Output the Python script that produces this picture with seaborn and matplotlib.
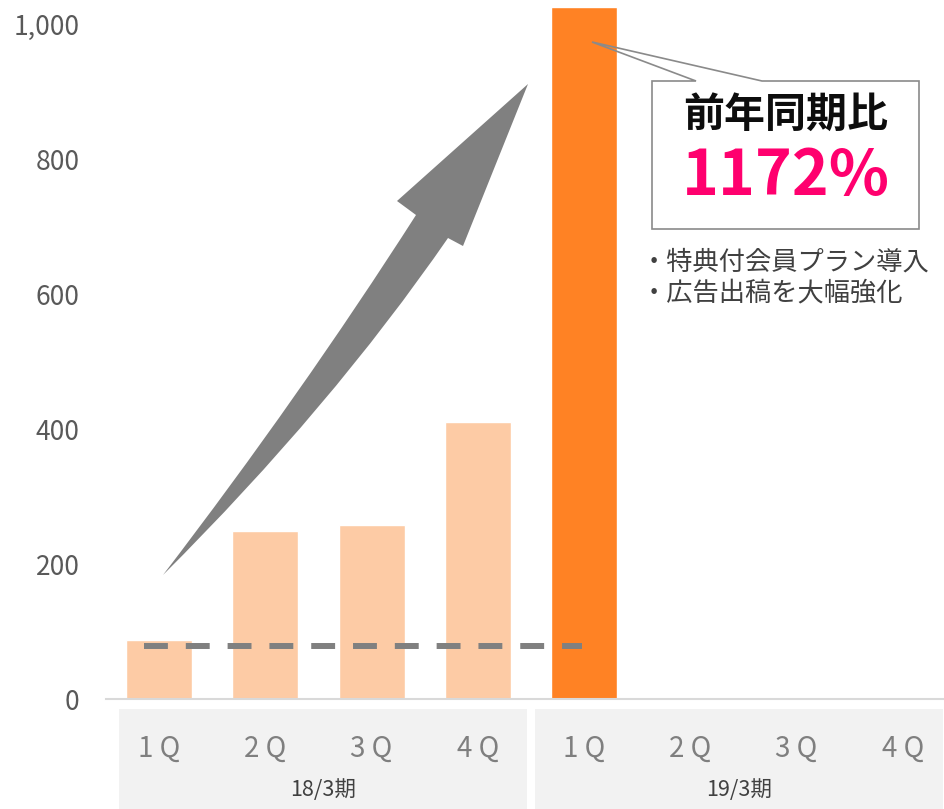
import numpy as np
import pandas as pd
import seaborn as sns
import matplotlib.pyplot as plt
from matplotlib.patches import Polygon, PathPatch, Rectangle
from matplotlib.path import Path
from matplotlib.ticker import FuncFormatter
from matplotlib.transforms import blended_transform_factory

# ---- data ---------------------------------------------------------------
quarters = ["1Q", "2Q", "3Q", "4Q"]
quarter_labels = ["1 Q", "2 Q", "3 Q", "4 Q"]
periods = ["18/3期", "19/3期"]
values_18 = [87, 249, 258, 410]
values_19 = [1025, np.nan, np.nan, np.nan]
prior_level = 78
yoy_label = "1172%"
headline = "前年同期比"
notes = ["・特典付会員プラン導入", "・広告出稿を大幅強化"]
y_ticks = [0, 200, 400, 600, 800, 1000]

# ---- styling ------------------------------------------------------------
sns.set_style("white")
plt.rcParams["font.family"] = ["Noto Sans CJK JP", "DejaVu Sans"]

W, H = 945, 809
fig = plt.figure(figsize=(W / 100, H / 100), dpi=100)
ax = fig.add_axes([106 / W, 110 / H, 850 / W, 691 / H])

slots = [f"{p} {q}" for p in periods for q in quarters]
rows = []
for p, vals, kind in [(periods[0], values_18, "past"), (periods[1], values_19, "current")]:
    for q, v in zip(quarters, vals):
        if not np.isnan(v):
            rows.append({"slot": f"{p} {q}", "value": v, "kind": kind})
df = pd.DataFrame(rows)

sns.barplot(data=df, x="slot", y="value", hue="kind", order=slots,
            palette={"past": "#FDCBA5", "current": "#FF8224"},
            width=0.62, dodge=False, saturation=1, legend=False, ax=ax)

ax.set_xlim(-0.5, len(slots) - 0.5)
ax.set_ylim(0, 1024)

# dashed reference level across the prior-year quarters
ax.hlines(prior_level, -0.14, 3.98, colors="#808080", linewidth=4.3,
          linestyles=(0, (4, 3)), capstyle="butt", zorder=5)

# axes & ticks
for s in ["top", "left", "right"]:
    ax.spines[s].set_visible(False)
ax.spines["bottom"].set_color("#d9d9d9")
ax.spines["bottom"].set_linewidth(1.5)
ax.set_xlabel("")
ax.set_ylabel("")
ax.set_xticks(range(len(slots)))
ax.set_xticklabels([])
ax.set_xticks(np.arange(-0.5, len(slots), 1.0), minor=True)
ax.tick_params(axis="x", which="major", length=0)
ax.tick_params(axis="x", which="minor", length=6.5, width=1.5, color="#d9d9d9",
               direction="out")
ax.set_yticks(y_ticks)
ax.yaxis.set_major_formatter(FuncFormatter(lambda v, _: f"{v:,.0f}"))
ax.tick_params(axis="y", length=0, pad=19, labelsize=19, labelcolor="#595959")

# category panels under the axis
bt = blended_transform_factory(ax.transData, ax.transAxes)
for (x0, x1), label in zip([(-0.378, 3.462), (3.538, 7.378)], periods):
    ax.add_patch(Rectangle((x0, -0.1592), x1 - x0, 0.1447, transform=bt,
                           facecolor="#f2f2f2", edgecolor="none", clip_on=False,
                           zorder=0))
    ax.text((x0 + x1) / 2, -0.1317, label, transform=bt, ha="center", va="center",
            fontsize=15.5, color="#404040", clip_on=False)
for i, slot in enumerate(slots):
    ax.text(i, -0.0724, quarter_labels[i % 4], transform=bt, ha="center",
            va="center", fontsize=20, color="#7f7f7f", clip_on=False)


# ---- annotations (figure pixel coordinates, origin top-left) -----------
def px(x, y):
    return (x / W, 1 - y / H)


verts = [px(163, 575), px(300.5, 395.5), px(416, 215), px(397, 201), px(528, 84),
         px(463, 246), px(448, 238), px(331.5, 407), px(163, 575), px(163, 575)]
codes = [Path.MOVETO, Path.CURVE3, Path.CURVE3, Path.LINETO, Path.LINETO,
         Path.LINETO, Path.LINETO, Path.CURVE3, Path.CURVE3, Path.CLOSEPOLY]
fig.add_artist(PathPatch(Path(verts, codes), transform=fig.transFigure,
                         facecolor="#808080", edgecolor="none", zorder=6))

callout = [px(652, 81), px(696, 81), px(592, 42), px(762, 81), px(919, 81),
           px(919, 229), px(652, 229)]
fig.add_artist(Polygon(callout, closed=True, transform=fig.transFigure,
                       facecolor="none", edgecolor="#8a8a8a", linewidth=1.2,
                       zorder=7))

fig.text(*px(786, 115), headline, ha="center", va="center", fontsize=29.5,
         fontweight="bold", color="#0d0d0d")
fig.text(*px(786, 177), yoy_label, ha="center", va="center", fontsize=45,
         fontweight="bold", color="#FF006E")
for k, note in enumerate(notes):
    fig.text(*px(641, 262 + 31 * k), note, ha="left", va="center", fontsize=18.9,
             color="#404040")

fig.savefig("out.png", dpi=100)
